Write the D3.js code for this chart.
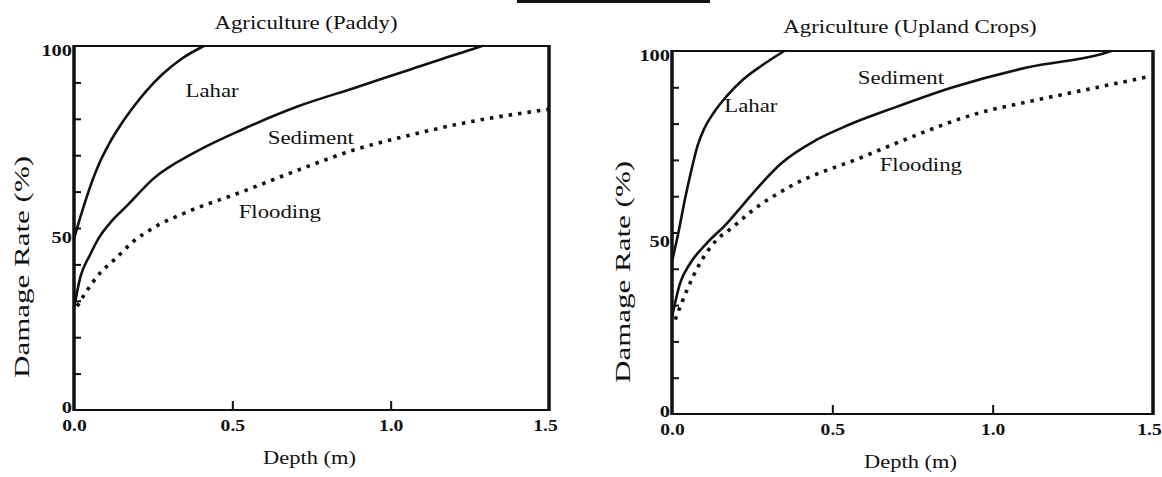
<!DOCTYPE html>
<html lang="en">
<head>
    <meta charset="utf-8">
    <title>Damage Rate vs Depth</title>
    <script src="https://d3js.org/d3.v7.min.js"></script>
    <style>
        html, body { margin: 0; padding: 0; background: #fff; }
        svg { display: block; }
        text { font-family: "Liberation Serif", "Times New Roman", serif; fill: #111; }
    </style>
</head>
<body>
<svg id="chart" width="1162" height="477"></svg>

<script type="text/javascript">
// Titles, series names and tick values
var panelTitles = ["Agriculture (Paddy)", "Agriculture (Upland Crops)"];
var seriesNames = ["Lahar", "Sediment", "Flooding"];
var xTickLabels = [0, 0.5, 1.0, 1.5];
var xInnerTicks = [0.5, 1.0];
var yTickLabels = [0, 50, 100];
var yInnerTicks = [10, 20, 30, 40, 50, 60, 70, 80, 90];

// [depth (m), damage rate (%)] - paddy
var paddyLahar = [[0, 47], [0.02, 53], [0.04, 58.5], [0.06, 63.5], [0.08, 67.8], [0.11, 73],
    [0.145, 78], [0.19, 83.5], [0.23, 87.8], [0.28, 92.3], [0.34, 96.5], [0.41, 100]];
var paddySediment = [[0, 28], [0.02, 36.5], [0.05, 42.5], [0.08, 47.5], [0.12, 52], [0.166, 56],
    [0.25, 63.5], [0.38, 70.7], [0.53, 77], [0.71, 83.5], [0.89, 88.6], [1.06, 93.5], [1.26, 99.2], [1.29, 100]];
var paddyFlooding = [[0.01, 28.5], [0.035, 32], [0.082, 37.6], [0.13, 41.5], [0.19, 46.5], [0.25, 50],
    [0.36, 54.5], [0.52, 59.6], [0.71, 66], [0.89, 71.6], [1.06, 75.5], [1.24, 79], [1.5, 82.6]];

// upland crops
var uplandLahar = [[0, 42], [0.02, 50], [0.04, 59], [0.06, 67], [0.08, 74], [0.1, 78.5],
    [0.13, 83], [0.17, 87.5], [0.22, 92], [0.28, 96], [0.35, 100]];
var uplandSediment = [[0, 26.7], [0.025, 36], [0.056, 41.4], [0.108, 47], [0.17, 52.4], [0.22, 57.5],
    [0.274, 63], [0.34, 69], [0.45, 75.5], [0.55, 79.6], [0.70, 84.6], [0.876, 90], [1.11, 95.5], [1.34, 99.2], [1.37, 100]];
var uplandFlooding = [[0.01, 26], [0.046, 34], [0.087, 41.5], [0.14, 48], [0.19, 51.5], [0.25, 56],
    [0.365, 62.5], [0.6, 71], [0.71, 75], [0.96, 83], [1.11, 86], [1.3, 89.5], [1.49, 93]];

// Layout of the two panels (pixels) and where the curve names sit (data units)
var panels = [
    { title: panelTitles[0], series: [paddyLahar, paddySediment, paddyFlooding],
      left: 74, right: 549, top: 46, bottom: 410, titleX: 306, titleY: 22,
      depthY: 457, yLabelX: 22, yLabelY: 267,
      labelAt: [[0.436, 87.9], [0.748, 75], [0.65, 54.4]] },
    { title: panelTitles[1], series: [uplandLahar, uplandSediment, uplandFlooding],
      left: 672, right: 1153, top: 51, bottom: 414, titleX: 910, titleY: 26,
      depthY: 461, yLabelX: 623, yLabelY: 272,
      labelAt: [[0.246, 85.1], [0.714, 92.8], [0.776, 68.6]] }
];

var svg = d3.select("#chart");

// stretch a text to a width (the scanned font is wide)
function widen(sel, k) {
    sel.each(function(){
        var w = this.getComputedTextLength();
        d3.select(this).attr("textLength", w * k).attr("lengthAdjust", "spacingAndGlyphs");
    });
}

// cut off heading underline at the top of the page
svg.append("line")
    .attr("x1", 517).attr("x2", 710)
    .attr("y1", 1.5).attr("y2", 1.5)
    .attr("stroke", "#111").attr("stroke-width", 3);

panels.forEach(function(p){
    var xScale = d3.scaleLinear().domain([0, 1.5]).range([p.left, p.right]);
    var yScale = d3.scaleLinear().domain([0, 100]).range([p.bottom, p.top]);

    var g = svg.append("g");

    // frame: thin top and bottom, thick left and right
    g.append("rect")
        .attr("x", xScale(0)).attr("y", yScale(100))
        .attr("width", xScale(1.5) - xScale(0))
        .attr("height", yScale(0) - yScale(100))
        .attr("fill", "none").attr("stroke", "#111").attr("stroke-width", 2);
    [0, 1.5].forEach(function(v){
        g.append("line")
            .attr("x1", xScale(v)).attr("x2", xScale(v))
            .attr("y1", yScale(100) - 1).attr("y2", yScale(0) + 1)
            .attr("stroke", "#111").attr("stroke-width", 3.5);
    });

    // inner ticks on the y axis
    g.append("g")
        .attr("transform", "translate(" + xScale(0) + ",0)")
        .call(d3.axisLeft(yScale).tickValues(yInnerTicks).tickSize(-7).tickFormat(""))
        .call(function(a){ a.select(".domain").remove(); })
        .selectAll("line").attr("stroke", "#111").attr("stroke-width", 2);

    // inner ticks on the x axis
    g.append("g")
        .attr("transform", "translate(0," + yScale(0) + ")")
        .call(d3.axisBottom(xScale).tickValues(xInnerTicks).tickSize(-9).tickFormat(""))
        .call(function(a){ a.select(".domain").remove(); })
        .selectAll("line").attr("stroke", "#111").attr("stroke-width", 2);

    // y tick labels (the scan puts them a little off their marks)
    var yLab = g.append("g")
        .attr("transform", "translate(" + (xScale(0) - 1) + ",0)")
        .call(d3.axisLeft(yScale).tickValues(yTickLabels).tickSize(0).tickPadding(1));
    yLab.select(".domain").remove();
    yLab.selectAll("text")
        .attr("font-size", 17).attr("font-weight", "bold")
        .attr("font-family", "Liberation Serif").attr("fill", "#111")
        .attr("y", function(d){ return d == 0 ? -3 : (d == 50 ? 9 : 4); });
    widen(yLab.selectAll("text"), 1.2);

    // x tick labels
    var xLab = g.append("g")
        .attr("transform", "translate(0," + yScale(0) + ")")
        .call(d3.axisBottom(xScale).tickValues(xTickLabels).tickSize(0).tickPadding(9)
            .tickFormat(d3.format(".1f")));
    xLab.select(".domain").remove();
    xLab.selectAll("text")
        .attr("font-size", 17).attr("font-weight", "bold")
        .attr("font-family", "Liberation Serif").attr("fill", "#111")
        .attr("x", function(d){ return d == 1.5 ? -4 : 0; });
    widen(xLab.selectAll("text"), 1.15);

    // curves
    var line = d3.line()
        .x(function(d){ return xScale(d[0]); })
        .y(function(d){ return yScale(d[1]); })
        .curve(d3.curveMonotoneX);

    p.series.forEach(function(s, i){
        var path = g.append("path")
            .datum(s)
            .attr("d", line)
            .attr("fill", "none")
            .attr("stroke", "#111")
            .attr("stroke-width", i == 2 ? 3.6 : 2.6);
        if (i == 2) {
            path.attr("stroke-dasharray", "3.5,6");
        }
    });

    // curve names
    var names = g.selectAll(".name")
        .data(seriesNames)
        .enter().append("text")
        .attr("class", "name")
        .attr("x", function(d, i){ return xScale(p.labelAt[i][0]); })
        .attr("y", function(d, i){ return yScale(p.labelAt[i][1]); })
        .attr("text-anchor", "middle")
        .attr("dominant-baseline", "central")
        .attr("font-size", 19)
        .text(function(d){ return d; });
    widen(names, 1.2);

    // panel title
    var title = g.append("text")
        .attr("x", p.titleX).attr("y", p.titleY)
        .attr("text-anchor", "middle").attr("dominant-baseline", "central")
        .attr("font-size", 19)
        .text(p.title);
    widen(title, 1.2);

    // axis titles
    var depth = g.append("text")
        .attr("x", (p.left + p.right) / 2 - 2).attr("y", p.depthY)
        .attr("text-anchor", "middle").attr("dominant-baseline", "central")
        .attr("font-size", 19)
        .text("Depth (m)");
    widen(depth, 1.18);

    var rate = g.append("text")
        .attr("transform", "translate(" + p.yLabelX + "," + p.yLabelY + ") rotate(-90)")
        .attr("text-anchor", "middle").attr("dominant-baseline", "central")
        .attr("font-size", 20)
        .text("Damage Rate (%)");
    widen(rate, 1.55);
});
</script>
</body>
</html>
